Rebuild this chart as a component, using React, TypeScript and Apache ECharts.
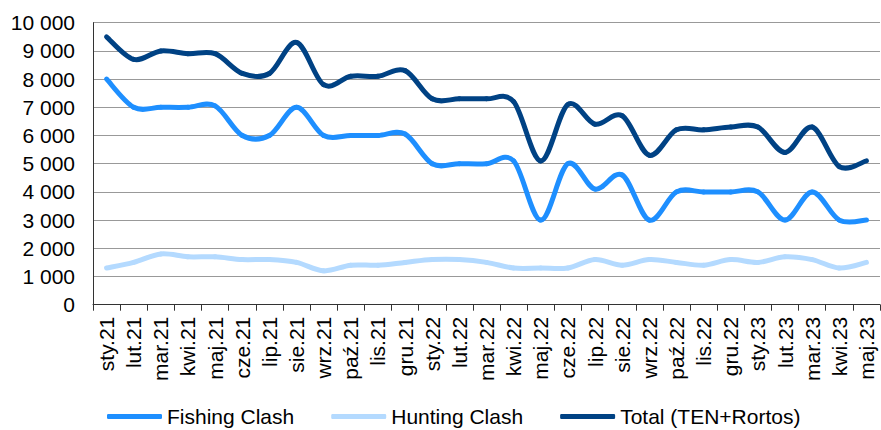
import React, { useEffect, useRef } from "react";
import * as echarts from "echarts";

const categories = [
  "sty.21", "lut.21", "mar.21", "kwi.21", "maj.21", "cze.21", "lip.21", "sie.21", "wrz.21", "paź.21", "lis.21", "gru.21",
  "sty.22", "lut.22", "mar.22", "kwi.22", "maj.22", "cze.22", "lip.22", "sie.22", "wrz.22", "paź.22", "lis.22", "gru.22",
  "sty.23", "lut.23", "mar.23", "kwi.23", "maj.23",
];

const fishingClash = [
  8000, 7000, 7000, 7000, 7050, 6000, 6000, 7000, 6000, 6000, 6000, 6050,
  5000, 5000, 5000, 5100, 3000, 5000, 4100, 4600, 3000, 4000, 4000, 4000,
  4000, 3000, 4000, 3000, 3000,
];

const huntingClash = [
  1300, 1500, 1800, 1700, 1700, 1600, 1600, 1500, 1200, 1400, 1400, 1500,
  1600, 1600, 1500, 1300, 1300, 1300, 1600, 1400, 1600, 1500, 1400, 1600,
  1500, 1700, 1600, 1300, 1500,
];

const total = [
  9500, 8700, 9000, 8900, 8900, 8200, 8200, 9300, 7800, 8100, 8100, 8300,
  7300, 7300, 7300, 7200, 5100, 7100, 6400, 6700, 5300, 6200, 6200, 6300,
  6300, 5400, 6300, 4900, 5100,
];

const seriesNames = ["Fishing Clash", "Hunting Clash", "Total (TEN+Rortos)"];
const seriesColors = ["#1e8fff", "#b4daff", "#004284"];

const FONT = "'Liberation Sans', Arial, sans-serif";

function makeSmoothSeries(name: string, values: number[], color: string, z: number) {
  const n = values.length;
  return {
    name,
    type: "custom",
    coordinateSystem: "cartesian2d",
    data: values.map((v, i) => [i, v]),
    encode: { x: 0, y: 1 },
    itemStyle: { color },
    z,
    silent: true,
    renderItem: (params: any, api: any) => {
      const i = params.dataIndex;
      if (i >= n - 1) return null;
      const pt = (k: number) => {
        const kk = Math.max(0, Math.min(n - 1, k));
        return api.coord([kk, values[kk]]);
      };
      const p0 = pt(i - 1);
      const p1 = pt(i);
      const p2 = pt(i + 1);
      const p3 = pt(i + 2);
      const t = 1 / 6;
      return {
        type: "bezierCurve",
        shape: {
          x1: p1[0],
          y1: p1[1],
          cpx1: p1[0] + (p2[0] - p0[0]) * t,
          cpy1: p1[1] + (p2[1] - p0[1]) * t,
          cpx2: p2[0] - (p3[0] - p1[0]) * t,
          cpy2: p2[1] - (p3[1] - p1[1]) * t,
          x2: p2[0],
          y2: p2[1],
        },
        style: { stroke: color, lineWidth: 5, fill: null, lineCap: "round" },
      };
    },
  };
}

export default function App() {
  const ref = useRef<HTMLDivElement>(null);

  useEffect(() => {
    if (!ref.current) return;
    const chart = echarts.init(ref.current, null, { renderer: "svg" });
    const datasets = [fishingClash, huntingClash, total];
    chart.setOption({
      animation: false,
      backgroundColor: "#ffffff",
      textStyle: { fontFamily: FONT },
      grid: { left: 93, right: 1, top: 22.7, bottom: 125.3, containLabel: false },
      legend: {
        left: 107,
        top: 406,
        padding: 0,
        itemWidth: 55,
        itemHeight: 5,
        itemGap: 37,
        icon: "roundRect",
        textStyle: { fontFamily: FONT, fontSize: 21, color: "#000" },
        data: seriesNames.map((nm, i) => ({ name: nm, itemStyle: { color: seriesColors[i] } })),
      },
      xAxis: {
        type: "category",
        data: categories,
        boundaryGap: true,
        axisLine: { show: true, lineStyle: { color: "#333", width: 1 } },
        axisTick: { show: true, length: 6, lineStyle: { color: "#333" } },
        axisLabel: {
          rotate: 90,
          interval: 0,
          margin: 12,
          fontSize: 21,
          color: "#000",
          fontFamily: FONT,
        },
      },
      yAxis: {
        type: "value",
        min: 0,
        max: 10000,
        interval: 1000,
        axisLine: { show: true, lineStyle: { color: "#333", width: 1 } },
        axisTick: { show: false },
        splitLine: { show: true, lineStyle: { color: "#999", width: 1 } },
        axisLabel: {
          margin: 18,
          fontSize: 21,
          color: "#000",
          fontFamily: FONT,
          formatter: (v: number) => String(v).replace(/\B(?=(\d{3})+(?!\d))/g, " "),
        },
      },
      series: datasets.map((d, i) => makeSmoothSeries(seriesNames[i], d, seriesColors[i], 2 + i)),
    });
    return () => chart.dispose();
  }, []);

  return (
    <div
      ref={ref}
      style={{ position: "fixed", left: 0, top: 0, width: 881, height: 430, background: "#fff" }}
    />
  );
}
